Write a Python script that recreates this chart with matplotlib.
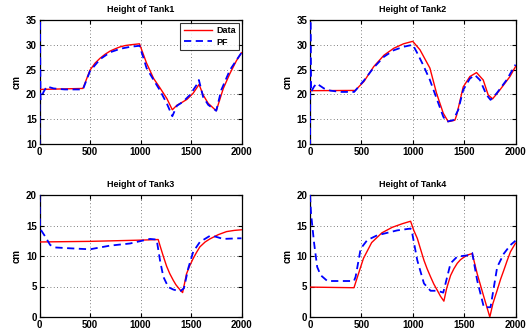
import matplotlib
matplotlib.use("Agg")
import matplotlib.pyplot as plt

plt.rcParams['font.family'] = ['Liberation Sans', 'DejaVu Sans']
plt.rcParams['font.weight'] = 'bold'

# ---- data ----
t1_data = [0, 430, 500, 550, 600, 650, 700, 750, 800, 850, 900, 990, 1060, 1130, 1190, 1260, 1315, 1360, 1420, 1460, 1520, 1580, 1620, 1670, 1750, 1820, 1885, 1950, 2000]
h1_data = [21.0, 21.2, 24.9, 26.3, 27.3, 28.1, 28.75, 29.2, 29.6, 29.85, 30.0, 30.2, 26.3, 23.2, 21.4, 19.2, 16.9, 17.8, 18.5, 19.0, 20.2, 22.0, 19.9, 18.2, 16.7, 21.2, 24.2, 26.8, 28.4]
t1_pf = [0, 3, 10, 40, 72, 140, 250, 430, 500, 600, 700, 800, 900, 990, 1030, 1060, 1130, 1190, 1260, 1315, 1360, 1420, 1490, 1555, 1578, 1620, 1670, 1750, 1800, 1885, 1950, 2000]
h1_pf = [0, 40, 19.0, 20.5, 21.6, 21.2, 21.0, 21.0, 24.7, 27.1, 28.5, 29.2, 29.6, 29.8, 27.3, 25.3, 22.9, 20.9, 18.2, 15.6, 17.7, 18.5, 19.9, 21.9, 22.9, 19.5, 17.9, 16.7, 20.9, 24.9, 26.9, 28.4]

t2_data = [0, 440, 525, 620, 720, 815, 910, 1000, 1070, 1167, 1232, 1297, 1345, 1410, 1427, 1491, 1556, 1621, 1686, 1734, 1777, 1848, 1946, 2000]
h2_data = [20.75, 20.8, 22.6, 25.6, 27.9, 29.3, 30.2, 30.7, 29.0, 25.3, 20.2, 16.2, 14.5, 14.8, 15.8, 21.5, 23.6, 24.4, 22.9, 19.9, 19.1, 20.9, 23.6, 25.6]
t2_pf = [0, 3, 10, 40, 65, 136, 200, 300, 430, 525, 620, 720, 815, 910, 1000, 1037, 1102, 1167, 1232, 1297, 1329, 1394, 1443, 1491, 1556, 1605, 1654, 1718, 1757, 1816, 1913, 2000]
h2_pf = [0, 40, 20.5, 21.6, 22.2, 21.2, 20.75, 20.5, 20.5, 22.8, 25.4, 27.6, 28.9, 29.6, 30.0, 28.6, 25.9, 22.9, 19.2, 15.5, 14.5, 14.8, 16.9, 20.9, 23.2, 23.9, 22.9, 19.9, 18.9, 20.2, 22.9, 26.0]

t3_data = [0, 500, 1000, 1175, 1195, 1225, 1259, 1290, 1325, 1350, 1374, 1400, 1417, 1456, 1490, 1522, 1555, 1588, 1640, 1687, 1770, 1852, 1930, 2000]
h3_data = [12.3, 12.4, 12.6, 12.7, 11.6, 10.0, 8.3, 7.1, 6.0, 5.3, 4.8, 4.3, 4.0, 7.1, 8.5, 9.6, 10.6, 11.5, 12.3, 12.8, 13.5, 14.0, 14.2, 14.3]
t3_pf = [0, 5, 56, 106, 155, 303, 500, 698, 896, 1094, 1160, 1193, 1226, 1275, 1325, 1391, 1430, 1473, 1522, 1588, 1687, 1737, 1819, 1967, 2000]
h3_pf = [20, 14.5, 13.2, 11.8, 11.4, 11.26, 11.1, 11.7, 12.05, 12.8, 12.7, 9.3, 6.6, 4.9, 4.5, 4.2, 4.7, 8.0, 10.7, 12.3, 13.3, 13.2, 12.8, 12.9, 12.9]

t4_data = [0, 428, 470, 520, 600, 700, 800, 900, 979, 1010, 1044, 1080, 1109, 1140, 1173, 1205, 1238, 1270, 1303, 1330, 1368, 1400, 1433, 1465, 1498, 1540, 1579, 1627, 1692, 1750, 1780, 1822, 1855, 1887, 1920, 1951, 2000]
h4_data = [4.9, 4.8, 7.0, 9.6, 12.2, 13.8, 14.7, 15.3, 15.7, 14.2, 12.9, 10.9, 9.3, 7.9, 6.6, 5.4, 4.4, 3.4, 2.6, 4.7, 6.8, 7.9, 8.8, 9.4, 9.8, 10.2, 10.4, 7.1, 3.3, 0.0, 2.2, 4.4, 6.2, 7.7, 9.3, 10.7, 12.1]
t4_pf = [0, 10, 25, 40, 70, 104, 169, 266, 428, 444, 493, 557, 655, 849, 979, 995, 1044, 1109, 1173, 1238, 1297, 1368, 1433, 1530, 1579, 1627, 1692, 1757, 1822, 1887, 1951, 2000]
h4_pf = [20, 17, 14.5, 12.1, 8.2, 6.85, 5.9, 5.9, 5.9, 6.6, 11.2, 12.6, 13.4, 14.2, 14.5, 13.7, 9.3, 5.5, 4.3, 4.3, 4.0, 8.8, 9.9, 10.1, 10.5, 6.0, 1.6, 1.6, 8.2, 10.4, 11.8, 12.5]

titles = ["Height of Tank1", "Height of Tank2", "Height of Tank3", "Height of Tank4"]
ylims = [(10, 35), (10, 35), (0, 20), (0, 20)]
xticks = [0, 500, 1000, 1500, 2000]
yticks_top = [10, 15, 20, 25, 30, 35]
yticks_bot = [0, 5, 10, 15, 20]
series = [(t1_data, h1_data, t1_pf, h1_pf), (t2_data, h2_data, t2_pf, h2_pf),
          (t3_data, h3_data, t3_pf, h3_pf), (t4_data, h4_data, t4_pf, h4_pf)]

W, H = 529, 334
fig = plt.figure(figsize=(W / 100, H / 100), dpi=100)

boxes = [(39.5, 20, 241.5, 144), (310, 20, 515.5, 144),
         (39.5, 195, 241.5, 317), (310, 195, 515.5, 317)]

for i, (box, title, yl, s) in enumerate(zip(boxes, titles, ylims, series)):
    x0, y0, x1, y1 = box
    ax = fig.add_axes([x0 / W, 1 - y1 / H, (x1 - x0) / W, (y1 - y0) / H])
    td, hd, tp, hp = s
    ax.plot(td, hd, color='red', lw=1.0, label='Data', zorder=3)
    ax.plot(tp, hp, color='blue', lw=1.3, ls=(0, (4, 2.5)), label='PF', zorder=4)
    ax.set_xlim(0, 2000)
    ax.set_ylim(*yl)
    ax.set_xticks(xticks)
    ax.set_yticks(yticks_top if i < 2 else yticks_bot)
    ax.tick_params(direction='in', top=True, right=True, length=3, width=0.8,
                   labelsize=7, pad=2)
    for lab in ax.get_xticklabels() + ax.get_yticklabels():
        lab.set_fontweight('bold')
    ax.grid(True, ls=(0, (1, 3)), color='#555555', lw=0.6)
    for sp in ax.spines.values():
        sp.set_linewidth(0.9)
    ax.set_title(title, fontsize=6.5, fontweight='bold', pad=6)
    ax.set_ylabel('cm', fontsize=7, fontweight='bold', labelpad=3)
    if i == 0:
        leg = ax.legend(loc='upper right', fontsize=6.5, frameon=True, fancybox=False,
                        edgecolor='black', borderaxespad=0.3, handlelength=3.2,
                        borderpad=0.35, labelspacing=0.3, handletextpad=0.4)
        leg.get_frame().set_linewidth(0.8)
        leg.set_zorder(5)
        for txt in leg.get_texts():
            txt.set_fontweight('bold')

fig.savefig('out.png', dpi=100)
